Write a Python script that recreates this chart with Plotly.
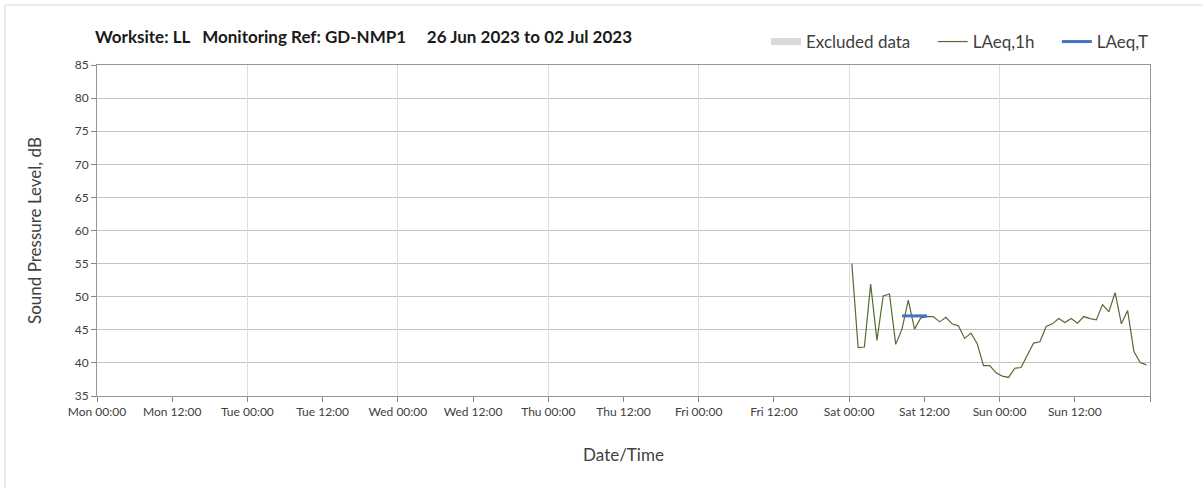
import pandas as pd
import plotly.graph_objects as go

# ---------------- data ----------------
laeq_1h_start = "2023-07-01 00:26"
laeq_1h_values = [
    55.0, 42.3, 42.4, 51.9, 43.4, 50.1, 50.4, 42.8, 45.1, 49.5,
    45.1, 46.8, 47.0, 47.0, 46.2, 46.9, 45.9, 45.6, 43.7, 44.5,
    42.9, 39.6, 39.6, 38.5, 38.0, 37.8, 39.2, 39.3, 41.2, 43.0,
    43.2, 45.5, 45.9, 46.7, 46.1, 46.7, 46.0, 47.0, 46.7, 46.5,
    48.8, 47.7, 50.6, 45.9, 47.9, 41.7, 40.05, 39.7,
]
laeq_1h_times = pd.date_range(laeq_1h_start, periods=len(laeq_1h_values), freq="h")

laeq_t_times = ["2023-07-01 08:26", "2023-07-01 12:26"]
laeq_t_values = [47.1, 47.1]

excluded_times = [None]
excluded_values = [None]

x_tick_times = [
    "2023-06-26 00:00", "2023-06-26 12:00", "2023-06-27 00:00", "2023-06-27 12:00",
    "2023-06-28 00:00", "2023-06-28 12:00", "2023-06-29 00:00", "2023-06-29 12:00",
    "2023-06-30 00:00", "2023-06-30 12:00", "2023-07-01 00:00", "2023-07-01 12:00",
    "2023-07-02 00:00", "2023-07-02 12:00",
]
x_tick_labels = [
    "Mon 00:00", "Mon 12:00", "Tue 00:00", "Tue 12:00", "Wed 00:00", "Wed 12:00",
    "Thu 00:00", "Thu 12:00", "Fri 00:00", "Fri 12:00", "Sat 00:00", "Sat 12:00",
    "Sun 00:00", "Sun 12:00",
]
x_range = ["2023-06-26 00:00", "2023-07-03 00:00"]
y_range = [35, 85]

title_text = ("Worksite: LL\u00a0\u00a0 Monitoring Ref: GD-NMP1"
              "\u00a0\u00a0\u00a0\u00a0 26 Jun 2023 to 02 Jul 2023")

FONT = "Lato, 'Open Sans', sans-serif"
TXT = "#404040"
W, H = 1203, 488
L, R, T, B = 97, 1150, 65, 396
HOUR12 = 12 * 3600 * 1000
GAP = "\u00a0" * 4


def px_x(px):
    return (px - L) / (R - L)


def px_y(py):
    return (B - py) / (B - T)


fig = go.Figure()

fig.add_trace(go.Scatter(
    x=excluded_times, y=excluded_values, name="Excluded data" + GAP,
    mode="lines", line=dict(color="#d9d9d9", width=7),
))
fig.add_trace(go.Scatter(
    x=laeq_1h_times, y=laeq_1h_values, name="LAeq,1h" + GAP,
    mode="lines", line=dict(color="#536c33", width=1.2),
))
fig.add_trace(go.Scatter(
    x=laeq_t_times, y=laeq_t_values, name="LAeq,T", xaxis="x2",
    mode="lines", line=dict(color="#4472c4", width=3),
))

fig.update_layout(
    width=W, height=H,
    margin=dict(l=L, r=W - R, t=T, b=H - B),
    paper_bgcolor="white", plot_bgcolor="white",
    font=dict(family=FONT, color=TXT, size=12),
    title=dict(text="<b>" + title_text + "</b>", xref="container", yref="container",
               x=95 / W, xanchor="left", y=1 - 37 / H, yanchor="middle",
               font=dict(family=FONT, size=17, color="#1a1a1a")),
    showlegend=True,
    legend=dict(orientation="h", xref="paper", yref="paper",
                x=px_x(1154), xanchor="right", y=px_y(42), yanchor="middle",
                font=dict(family=FONT, size=17, color=TXT),
                itemwidth=30, bgcolor="rgba(0,0,0,0)"),
    xaxis=dict(
        type="date", range=x_range, automargin=False,
        tickmode="array", tickvals=x_tick_times, ticktext=x_tick_labels,
        ticks="outside", ticklen=5, tickcolor="#868686",
        minor=dict(dtick=HOUR12, tick0=x_range[0], ticks="outside", ticklen=5,
                   tickcolor="#868686", showgrid=False),
        showgrid=False, zeroline=False,
        showline=True, linecolor="#969696", linewidth=1, mirror=True,
        tickfont=dict(family=FONT, size=12, color=TXT),
        title=dict(text="Date/Time", standoff=30,
                   font=dict(family=FONT, size=17, color=TXT)),
    ),
    xaxis2=dict(
        type="date", range=x_range, overlaying="x", anchor="y",
        tick0=x_range[0], dtick=2 * HOUR12,
        showticklabels=False, ticks="", showline=False, zeroline=False,
        showgrid=True, gridcolor="#dedede", gridwidth=1,
    ),
    yaxis=dict(
        range=y_range, dtick=5, tick0=35, automargin=False,
        ticks="outside", ticklen=5, tickcolor="#868686",
        showgrid=True, gridcolor="#c4c4c4", gridwidth=1, zeroline=False,
        showline=True, linecolor="#969696", linewidth=1, mirror=True,
        tickfont=dict(family=FONT, size=12, color=TXT),
        title=dict(text="Sound Pressure Level, dB", standoff=28,
                   font=dict(family=FONT, size=17, color=TXT)),
    ),
    shapes=[dict(type="rect", xref="paper", yref="paper",
                 x0=px_x(5), x1=px_x(W + 10), y0=px_y(H + 10), y1=px_y(5),
                 line=dict(color="#d9d9d9", width=1), fillcolor="rgba(0,0,0,0)",
                 layer="below")],
)

fig.write_html("out.html", config={"displayModeBar": False},
               post_script="document.body.style.margin='0';")
